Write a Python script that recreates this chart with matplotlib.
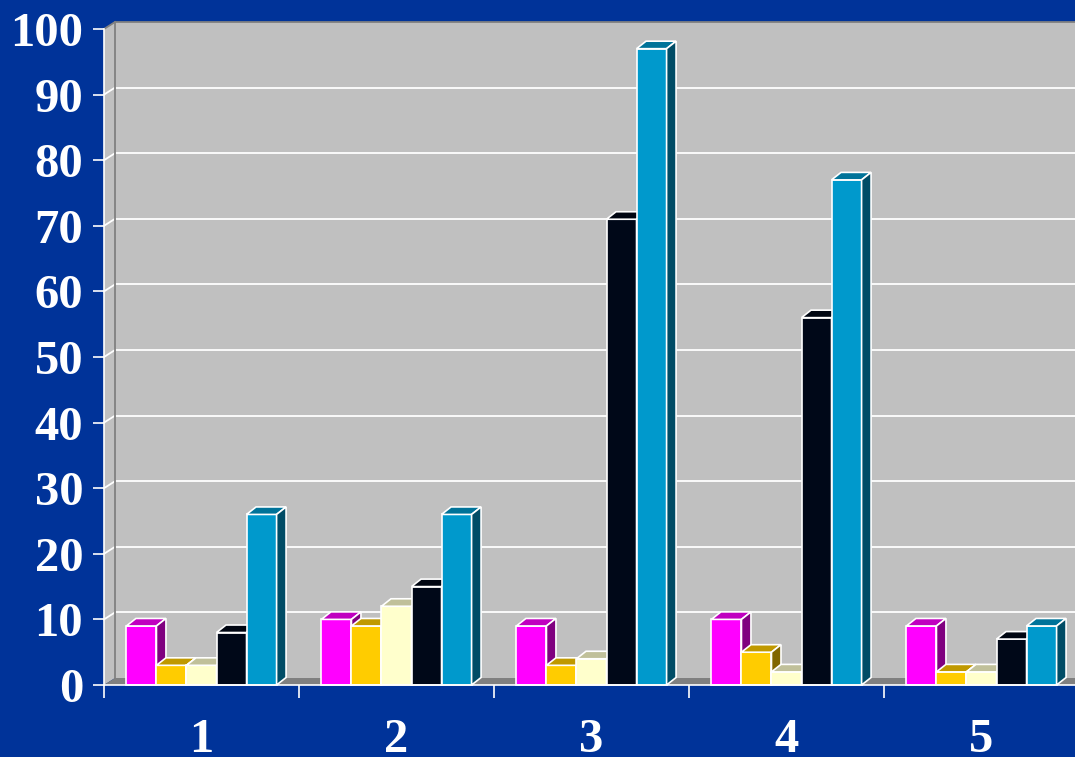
import matplotlib.pyplot as plt
from matplotlib.patches import Polygon

# Datos por categoría
categorias = ['1', '2', '3', '4', '5']
serie_magenta = [9, 10, 9, 10, 9]
serie_oro = [3, 9, 3, 5, 2]
serie_crema = [3, 12, 4, 2, 2]
serie_negra = [8, 15, 71, 56, 7]
serie_azul = [26, 26, 97, 77, 9]

series = [serie_magenta, serie_oro, serie_crema, serie_negra, serie_azul]
# (frente, tapa, lateral)
colores = [
    ('#FF00FF', '#C000C0', '#800080'),
    ('#FFCC00', '#C09900', '#806600'),
    ('#FFFFCC', '#C0C09A', '#808066'),
    ('#000818', '#000612', '#00040C'),
    ('#0099CC', '#007399', '#004C66'),
]

fondo = '#003399'
gris = '#C0C0C0'
gris_osc = '#808080'

fig = plt.figure(figsize=(10.75, 7.57), dpi=100, facecolor=fondo)
ax = fig.add_axes([104 / 1075, 72 / 757, 975 / 1075, 656 / 757])
ax.set_xlim(0.5, 5.5)
ax.set_ylim(0, 100)
ax.patch.set_visible(False)


def desplazamiento(dx_px, dy_px):
    # pasa un corrimiento en píxeles a unidades de datos
    x0, y0 = ax.transData.transform((1, 0))
    x1, y1 = ax.transData.inverted().transform((x0 + dx_px, y0 + dy_px))
    return x1 - 1, y1


# Paredes y piso en perspectiva
wx, wy = desplazamiento(11, 7)
x_ini, x_fin = 0.5, 6.0
ax.add_patch(Polygon([(x_ini + wx, wy), (x_fin, wy), (x_fin, 100 + wy), (x_ini + wx, 100 + wy)],
                     closed=True, facecolor=gris, edgecolor='none', zorder=0, clip_on=False))
ax.add_patch(Polygon([(x_ini, 0), (x_ini + wx, wy), (x_ini + wx, 100 + wy), (x_ini, 100)],
                     closed=True, facecolor=gris, edgecolor='none', zorder=0, clip_on=False))
for v in range(10, 100, 10):
    ax.plot([x_ini + wx, x_fin], [v + wy, v + wy], color='white', lw=1.3, zorder=1, clip_on=False)
    ax.plot([x_ini, x_ini + wx], [v, v + wy], color='white', lw=1.3, zorder=1, clip_on=False)
ax.plot([x_ini + wx, x_ini + wx, x_fin], [wy, 100 + wy, 100 + wy], color=gris_osc, lw=1.3,
        zorder=1, clip_on=False)
ax.plot([x_ini, x_ini + wx], [100, 100 + wy], color=gris_osc, lw=1.3, zorder=1, clip_on=False)
ax.add_patch(Polygon([(x_ini, 0), (x_ini + wx, wy), (x_fin, wy), (x_fin, 0)],
                     closed=True, facecolor=gris_osc, edgecolor='none', zorder=1, clip_on=False))

# Barras 3D
bx, by = desplazamiento(9.5, 7.5)
ancho = 0.154
n = len(series)
z = 2
for i in range(len(categorias)):
    centro = i + 1
    for j in range(n):
        v = series[j][i]
        frente, tapa, lado = colores[j]
        x0 = centro - ancho * n / 2 + j * ancho
        x1 = x0 + ancho
        kw = dict(closed=True, edgecolor='white', lw=1.2, clip_on=False, joinstyle='miter')
        ax.add_patch(Polygon([(x0, 0), (x1, 0), (x1, v), (x0, v)], facecolor=frente, zorder=z, **kw))
        ax.add_patch(Polygon([(x0, v), (x1, v), (x1 + bx, v + by), (x0 + bx, v + by)],
                             facecolor=tapa, zorder=z, **kw))
        ax.add_patch(Polygon([(x1, 0), (x1 + bx, by), (x1 + bx, v + by), (x1, v)],
                             facecolor=lado, zorder=z, **kw))
        z += 0.01

# Ejes
fuente = dict(family='Liberation Serif', weight='bold', size=35, color='white')
ax.set_yticks(range(0, 101, 10))
ax.set_yticklabels([str(t) for t in range(0, 101, 10)], **fuente)
ax.set_xticks(range(1, 6))
ax.set_xticklabels(categorias, **fuente)
ax.set_xticks([k + 0.5 for k in range(0, 6)], minor=True)
ax.tick_params(axis='y', colors='white', length=8, width=1.2, pad=7)
ax.tick_params(axis='x', which='major', length=0, pad=24, colors='white')
ax.tick_params(axis='x', which='minor', length=9, width=1.2, colors='white')
for lado in ['top', 'right']:
    ax.spines[lado].set_visible(False)
for lado in ['left', 'bottom']:
    ax.spines[lado].set_color('white')
    ax.spines[lado].set_linewidth(1.2)
    ax.spines[lado].set_zorder(5)

fig.savefig('out.png', dpi=100, facecolor=fondo)
